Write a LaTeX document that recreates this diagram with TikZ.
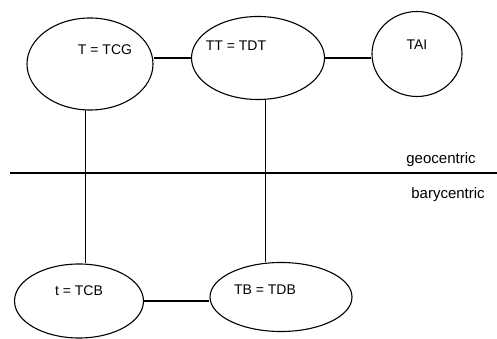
\documentclass[tikz,border=0pt]{standalone}
\usepackage{fontspec}
\setmainfont{Liberation Sans}
\usetikzlibrary{shapes.geometric,positioning}

\begin{document}
\begin{tikzpicture}[x=1pt,y=-1pt,on grid,line width=1.1pt,
  clock/.style={ellipse,draw,inner sep=0pt},
  scale name/.style={font=\fontsize{14}{16}\selectfont},
  side/.style={font=\fontsize{15}{17}\selectfont}]
  \useasboundingbox (0,0) rectangle (497,339);
  % time scales
  \node[clock,minimum width=126pt,minimum height=92pt] (tcg) at (90,64) {};
  \node[clock,minimum width=133pt,minimum height=83pt] (tdt) [above right=6pt and 168pt of tcg] {};
  \node[clock,minimum width=90pt,minimum height=85pt] (tai) [above right=4pt and 159pt of tdt] {};
  \node[clock,minimum width=129pt,minimum height=74pt] (tcb) [below left=237pt and 11pt of tcg] {};
  \node[clock,minimum width=142pt,minimum height=69pt] (tdb) [above right=4pt and 202pt of tcb] {};
  \node[scale name] (tcg text) [above right=14pt and 15pt of tcg] {T = TCG};
  \node[scale name] (tdt text) [above left=12pt and 22pt of tdt] {TT = TDT};
  \node[scale name] (tai text) [above=9pt of tai] {TAI};
  \node[scale name] (tcb text) [above=10pt of tcb] {t = TCB};
  \node[scale name] (tdb text) [above left=7pt and 16pt of tdb] {TB = TDB};
  % reference frames
  \coordinate (frame west) at (10,173);
  \coordinate (frame east) at (497,173);
  \node[side] (geo) at (441,160) {geocentric};
  \node[side] (bary) [below right=35pt and 7pt of geo] {barycentric};
  \path
    (tdt.west) edge (tdt.west -| tcg.east)
    (tdt.east) edge (tai.west |- tdt.east)
    (tcg.-96) edge (tcg.-96 |- tcb.north)
    (tdt.-80) edge (tdt.-80 |- tdb.north)
    (tcb.east) edge (tdb.west |- tcb.east)
    (frame west) edge (frame east);
\end{tikzpicture}
\end{document}
